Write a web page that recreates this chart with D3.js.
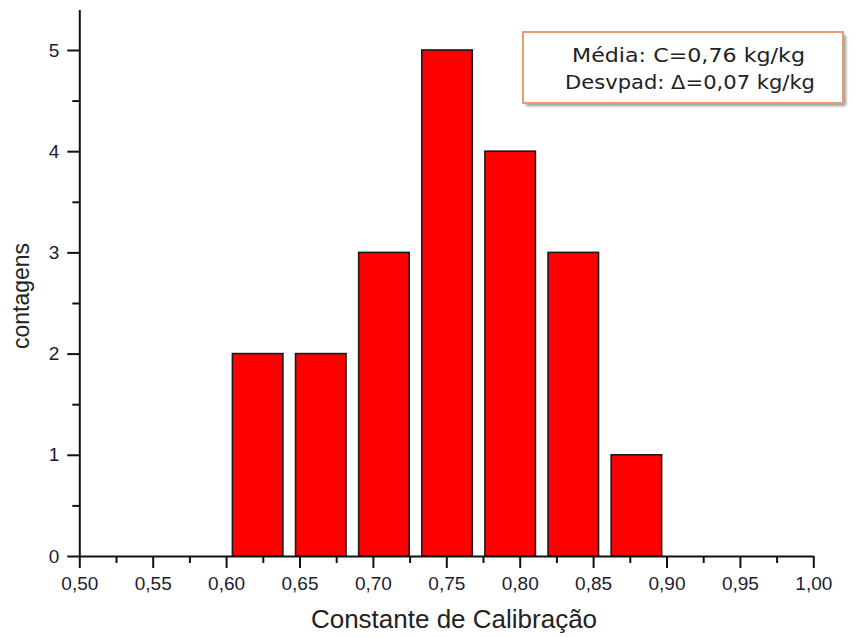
<!DOCTYPE html>
<html>
<head>
<meta charset="utf-8">
<script src="https://cdn.jsdelivr.net/npm/d3@7"></script>
<style>
  body { margin: 0; background: #fff; }
  svg { display: block; }
</style>
</head>
<body>
<svg id="chart"></svg>
<script>
// histogram bins (center of each bin) and counts
const binCenters = [0.6215, 0.6645, 0.7075, 0.7505, 0.7935, 0.8365, 0.8795]
const counts = [2, 2, 3, 5, 4, 3, 1]
const binWidth = 0.043

// tick labels
const xMajor = [0.50, 0.55, 0.60, 0.65, 0.70, 0.75, 0.80, 0.85, 0.90, 0.95, 1.00]
const xMinor = [0.525, 0.575, 0.625, 0.675, 0.725, 0.775, 0.825, 0.875, 0.925, 0.975]
const yMajor = [0, 1, 2, 3, 4, 5]
const yMinor = [0.5, 1.5, 2.5, 3.5, 4.5]

const xTitle = 'Constante de Calibração'
const yTitle = 'contagens'
const legendLines = ['Média: C=0,76 kg/kg', 'Desvpad: Δ=0,07 kg/kg']

const fullWidth = 855
const fullHeight = 637

const svg = d3.select('#chart')
  .attr('width', fullWidth)
  .attr('height', fullHeight)

const x = d3.scaleLinear().domain([0.5, 1.0]).range([79.3, 813.3])
const y = d3.scaleLinear().domain([0, 5.4]).range([556, 9.5])

const comma = d => d3.format('.2f')(d).replace('.', ',')

// bars
const barW = x(binWidth * 0.8) - x(0)
svg.append('g')
  .selectAll('rect')
  .data(binCenters)
  .join('rect')
    .attr('x', d => x(d) - barW / 2)
    .attr('y', (d, i) => y(counts[i]))
    .attr('width', barW)
    .attr('height', (d, i) => y(0) - y(counts[i]))
    .attr('fill', '#ff0000')
    .attr('stroke', '#1a1a1a')
    .attr('stroke-width', 1.6)

// x axis
svg.append('g')
  .attr('transform', 'translate(0,' + y(0) + ')')
  .call(d3.axisBottom(x).tickValues(xMajor).tickSize(12).tickSizeOuter(0)
    .tickPadding(9).tickFormat(comma))
svg.append('g')
  .attr('transform', 'translate(0,' + y(0) + ')')
  .call(d3.axisBottom(x).tickValues(xMinor).tickSize(7).tickSizeOuter(0).tickFormat(''))
  .select('.domain').remove()

// y axis
svg.append('g')
  .attr('transform', 'translate(' + x(0.5) + ',0)')
  .call(d3.axisLeft(y).tickValues(yMajor).tickSize(12).tickSizeOuter(0)
    .tickPadding(8).tickFormat(d3.format('d')))
svg.append('g')
  .attr('transform', 'translate(' + x(0.5) + ',0)')
  .call(d3.axisLeft(y).tickValues(yMinor).tickSize(7).tickSizeOuter(0).tickFormat(''))
  .select('.domain').remove()

svg.selectAll('.domain, .tick line')
  .attr('stroke', '#111')
  .attr('stroke-width', 2)
svg.selectAll('.tick text')
  .attr('fill', '#1c1c30')
  .style('font-family', '"Liberation Sans", Arial, sans-serif')
  .style('font-size', '19px')

// axis titles
svg.append('text')
  .attr('x', 454)
  .attr('y', 628)
  .attr('text-anchor', 'middle')
  .attr('fill', '#222')
  .style('font-family', '"Liberation Sans", Arial, sans-serif')
  .style('font-size', '26px')
  .text(xTitle)

svg.append('text')
  .attr('transform', 'translate(29,296) rotate(-90)')
  .attr('text-anchor', 'middle')
  .attr('fill', '#222')
  .style('font-family', '"Liberation Sans", Arial, sans-serif')
  .style('font-size', '23px')
  .text(yTitle)

// legend box
const defs = svg.append('defs')
defs.append('filter').attr('id', 'blur')
  .append('feGaussianBlur').attr('stdDeviation', 1.5)

const lg = svg.append('g')
lg.append('rect')
  .attr('x', 526).attr('y', 35).attr('width', 320).attr('height', 71)
  .attr('fill', '#9a9a9a')
  .attr('filter', 'url(#blur)')
lg.append('rect')
  .attr('x', 523).attr('y', 32).attr('width', 320).attr('height', 71)
  .attr('fill', '#fff')
  .attr('stroke', '#ec9a6e')
  .attr('stroke-width', 2)
const legendWidths = [233, 250]
lg.selectAll('text.leg')
  .data(legendLines)
  .join('text')
    .attr('class', 'leg')
    .attr('x', (d, i) => i === 0 ? 572 : 565)
    .attr('y', (d, i) => 62 + i * 26.5)
    .attr('textLength', (d, i) => legendWidths[i])
    .attr('lengthAdjust', 'spacingAndGlyphs')
    .attr('fill', '#222')
    .style('font-family', '"DejaVu Sans", sans-serif')
    .style('font-size', '19px')
    .text(d => d)
</script>
</body>
</html>
